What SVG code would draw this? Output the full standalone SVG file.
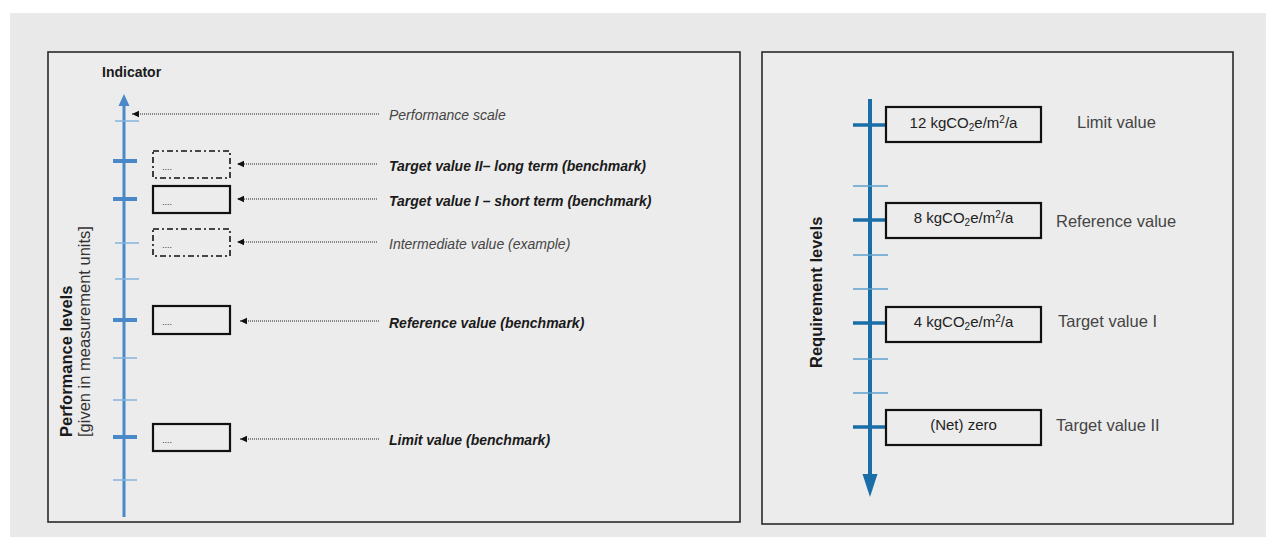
<svg xmlns="http://www.w3.org/2000/svg" width="1266" height="537" viewBox="0 0 1266 537">
  <style>
    text { font-family: "Liberation Sans", Arial, sans-serif; }
    .panel { fill: #ececec; stroke: #2a2a2a; stroke-width: 1.6; }
    .laxis { stroke: #4a89c8; fill: none; }
    .lthin { stroke: #86b4de; stroke-width: 1.5; }
    .lthick { stroke: #4a89c8; stroke-width: 4; }
    .raxis { stroke: #1a6ea8; fill: none; }
    .rthick { stroke: #1a6ea8; stroke-width: 3.5; }
    .rthin { stroke: #5d9fcd; stroke-width: 1.5; }
    .box { fill: none; stroke: #111; stroke-width: 2.2; }
    .dbox { fill: none; stroke: #111; stroke-width: 1.6; stroke-dasharray: 6 3 2 3; }
    .dots { font-size: 9px; fill: #333; }
    .lead { stroke: #222; stroke-width: 1; stroke-dasharray: 1 1; fill: none; }
    .lbl { font-size: 14px; font-style: italic; }
    .lblb { font-size: 14px; font-style: italic; font-weight: bold; fill: #1a1a1a; }
    .lbln { fill: #454545; }
    .val { font-size: 15px; fill: #222; text-anchor: middle; }
    .rlbl { font-size: 16.5px; fill: #444; }
  </style>
  <defs>
    <marker id="ah" markerWidth="8" markerHeight="8" refX="7" refY="4" orient="auto" markerUnits="userSpaceOnUse">
      <path d="M0,0.8 L7,4 L0,7.2 Z" fill="#111"/>
    </marker>
  </defs>

  <rect x="0" y="0" width="1266" height="537" fill="#ffffff"/>
  <rect x="10" y="13" width="1256" height="524" fill="#e9e9e9"/>

  <!-- Left panel -->
  <g id="left-panel">
    <rect class="panel" x="48" y="52" width="692" height="470"/>
    <text x="102" y="77" font-size="14" font-weight="bold" fill="#1a1a1a">Indicator</text>
    <text transform="translate(72,437) rotate(-90)" font-size="16.5" font-weight="bold" fill="#1a1a1a">Performance levels</text>
    <text transform="translate(89.5,437) rotate(-90)" font-size="16.5" fill="#333">[given in measurement units]</text>
  </g>

  <g id="performance-scale-axis">
    <line class="laxis" x1="124" y1="517" x2="124" y2="104" stroke-width="3"/>
    <polygon points="124,94 118.5,106 129.5,106" fill="#4a89c8"/>
    <line class="lthin" x1="115" y1="121" x2="139" y2="121"/>
    <line class="lthin" x1="115" y1="243" x2="139" y2="243"/>
    <line class="lthin" x1="115" y1="279" x2="139" y2="279"/>
    <line class="lthin" x1="113" y1="358" x2="137" y2="358"/>
    <line class="lthin" x1="113" y1="400" x2="137" y2="400"/>
    <line class="lthin" x1="113" y1="480" x2="137" y2="480"/>
    <line class="lthick" x1="113" y1="161" x2="137" y2="161"/>
    <line class="lthick" x1="113" y1="199" x2="137" y2="199"/>
    <line class="lthick" x1="113" y1="320" x2="137" y2="320"/>
    <line class="lthick" x1="113" y1="437" x2="137" y2="437"/>
  </g>

  <g id="box-target-ii">
    <rect class="dbox" x="153" y="151" width="77" height="27"/>
    <text class="dots" x="162" y="170">....</text>
  </g>
  <g id="box-target-i">
    <rect class="box" x="153" y="186" width="77" height="27"/>
    <text class="dots" x="162" y="205">....</text>
  </g>
  <g id="box-intermediate">
    <rect class="dbox" x="153" y="229" width="77" height="27"/>
    <text class="dots" x="162" y="248">....</text>
  </g>
  <g id="box-reference">
    <rect class="box" x="153" y="306" width="77" height="28"/>
    <text class="dots" x="162" y="325">....</text>
  </g>
  <g id="box-limit">
    <rect class="box" x="153" y="424" width="77" height="27"/>
    <text class="dots" x="162" y="443">....</text>
  </g>

  <g id="label-performance-scale"><text class="lbl lbln" x="389" y="120">Performance scale</text></g>
  <g id="label-target-ii"><text class="lblb" x="389" y="171">Target value II– long term (benchmark)</text></g>
  <g id="label-target-i"><text class="lblb" x="389" y="206">Target value I – short term (benchmark)</text></g>
  <g id="label-intermediate"><text class="lbl lbln" x="389" y="249">Intermediate value (example)</text></g>
  <g id="label-reference"><text class="lblb" x="389" y="328">Reference value (benchmark)</text></g>
  <g id="label-limit"><text class="lblb" x="389" y="445">Limit value (benchmark)</text></g>

  <g id="connectors">
    <line class="lead" x1="379" y1="114" x2="132" y2="114" marker-end="url(#ah)"/>
    <line class="lead" x1="377" y1="164" x2="237" y2="164" marker-end="url(#ah)"/>
    <line class="lead" x1="377" y1="199" x2="237" y2="199" marker-end="url(#ah)"/>
    <line class="lead" x1="377" y1="242" x2="237" y2="242" marker-end="url(#ah)"/>
    <line class="lead" x1="379" y1="321" x2="240" y2="321" marker-end="url(#ah)"/>
    <line class="lead" x1="379" y1="439" x2="240" y2="439" marker-end="url(#ah)"/>
  </g>

  <!-- Right panel -->
  <g id="right-panel">
    <rect class="panel" x="762" y="52" width="471" height="472"/>
    <text transform="translate(822,368) rotate(-90)" font-size="16.5" font-weight="bold" fill="#1a1a1a">Requirement levels</text>
  </g>

  <g id="requirement-axis">
    <line class="raxis" x1="870" y1="99" x2="870" y2="478" stroke-width="4"/>
    <polygon points="862.5,474 877.5,474 870,497" fill="#1a6ea8"/>
    <line class="rthin" x1="853" y1="186" x2="888" y2="186"/>
    <line class="rthin" x1="853" y1="255" x2="888" y2="255"/>
    <line class="rthin" x1="853" y1="289" x2="888" y2="289"/>
    <line class="rthin" x1="853" y1="359" x2="888" y2="359"/>
    <line class="rthin" x1="853" y1="393" x2="888" y2="393"/>
    <line class="rthick" x1="853" y1="125" x2="887" y2="125"/>
    <line class="rthick" x1="853" y1="220" x2="887" y2="220"/>
    <line class="rthick" x1="853" y1="323" x2="887" y2="323"/>
    <line class="rthick" x1="853" y1="427" x2="887" y2="427"/>
  </g>

  <g id="req-limit">
    <rect class="box" x="886" y="107" width="155" height="35"/>
    <text class="val" x="963.5" y="128">12 kgCO<tspan font-size="10" dy="3">2</tspan><tspan dy="-3">e/m</tspan><tspan font-size="10" dy="-5">2</tspan><tspan dy="5">/a</tspan></text>
    <text class="rlbl" x="1077" y="128">Limit value</text>
  </g>
  <g id="req-reference">
    <rect class="box" x="886" y="203" width="155" height="35"/>
    <text class="val" x="963.5" y="223">8 kgCO<tspan font-size="10" dy="3">2</tspan><tspan dy="-3">e/m</tspan><tspan font-size="10" dy="-5">2</tspan><tspan dy="5">/a</tspan></text>
    <text class="rlbl" x="1056" y="227">Reference value</text>
  </g>
  <g id="req-target-i">
    <rect class="box" x="886" y="307" width="155" height="35"/>
    <text class="val" x="963.5" y="327">4 kgCO<tspan font-size="10" dy="3">2</tspan><tspan dy="-3">e/m</tspan><tspan font-size="10" dy="-5">2</tspan><tspan dy="5">/a</tspan></text>
    <text class="rlbl" x="1058" y="327">Target value I</text>
  </g>
  <g id="req-target-ii">
    <rect class="box" x="886" y="410" width="155" height="35"/>
    <text class="val" x="963.5" y="430">(Net) zero</text>
    <text class="rlbl" x="1056" y="431">Target value II</text>
  </g>
</svg>
